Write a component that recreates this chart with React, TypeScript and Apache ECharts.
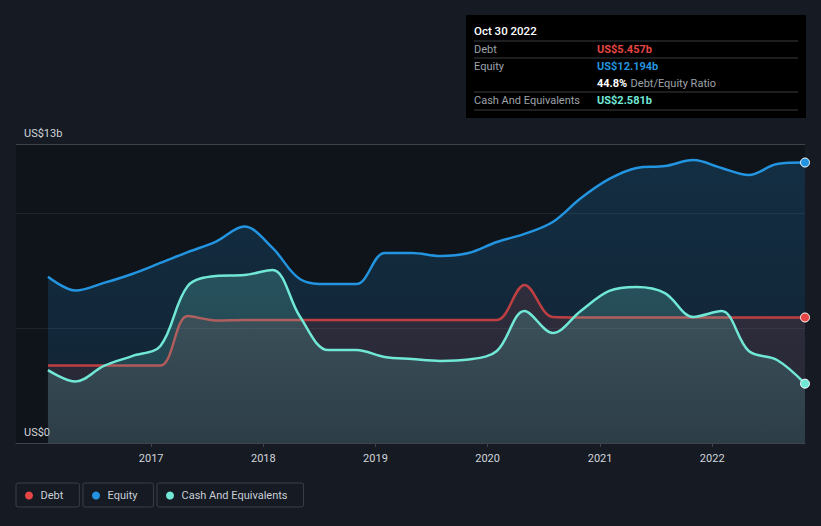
import React, { useEffect, useRef } from "react";
import * as echarts from "echarts";

const quarterDates = [
  "2016-01-31", "2016-04-30", "2016-07-31", "2016-10-31",
  "2017-01-31", "2017-04-30", "2017-07-31", "2017-10-31",
  "2018-01-31", "2018-04-30", "2018-07-31", "2018-10-31",
  "2019-01-31", "2019-04-30", "2019-07-31", "2019-10-31",
  "2020-01-31", "2020-04-30", "2020-07-31", "2020-10-31",
  "2021-01-31", "2021-04-30", "2021-07-31", "2021-10-31",
  "2022-01-31", "2022-04-30", "2022-07-31", "2022-10-30",
];

const equity = [7.23, 6.63, 6.96, 7.35, 7.83, 8.3, 8.76, 9.41, 8.48, 7.13, 6.91, 6.91, 8.26, 8.26, 8.13, 8.26, 8.74, 9.09, 9.61, 10.65, 11.48, 11.96, 12.04, 12.3, 11.96, 11.65, 12.13, 12.194];
const debt = [3.37, 3.37, 3.37, 3.37, 3.37, 5.52, 5.33, 5.35, 5.35, 5.35, 5.35, 5.35, 5.35, 5.35, 5.35, 5.35, 5.35, 6.87, 5.48, 5.46, 5.46, 5.46, 5.46, 5.46, 5.46, 5.46, 5.46, 5.457];
const cash = [3.17, 2.67, 3.35, 3.78, 4.22, 6.83, 7.26, 7.3, 7.52, 5.5, 4.04, 4.04, 3.74, 3.65, 3.57, 3.63, 4.0, 5.74, 4.78, 5.75, 6.61, 6.78, 6.52, 5.48, 5.74, 4.0, 3.61, 2.581];

const yearTicks = ["2017-01-01", "2018-01-01", "2019-01-01", "2020-01-01", "2021-01-01", "2022-01-01"];
const axisStart = "2015-10-19";
const yLabelValues = [0, 13];
const yMax = 13;
const tooltipTitle = "Oct 30 2022";

const COLORS = {
  debt: "#e64545",
  equity: "#2394df",
  cash: "#71e7d6",
};

const FONT = "Roboto, 'Noto Sans', sans-serif";

export default function App() {
  const ref = useRef<HTMLDivElement>(null);

  useEffect(() => {
    if (!ref.current) return;
    const chart = echarts.init(ref.current, undefined, { renderer: "svg" });
    const ts = quarterDates.map((d) => Date.parse(d));
    const last = ts.length - 1;
    const mk = (arr: number[]) => arr.map((v, i) => [ts[i], v]);

    const symSize = (_v: any, p: any) => (p.dataIndex === last ? 9 : 0);

    const grad = (color: string, a1: number, a2: number) =>
      new echarts.graphic.LinearGradient(0, 0, 0, 1, [
        { offset: 0, color: hexA(color, a1) },
        { offset: 1, color: hexA(color, a2) },
      ]);

    const lastDebt = debt[last];
    const lastEquity = equity[last];
    const lastCash = cash[last];
    const ratio = ((lastDebt / lastEquity) * 100).toFixed(1);

    const legendCommon = {
      top: 483,
      icon: "circle",
      itemWidth: 13,
      itemHeight: 8,
      padding: [7, 16, 6, 9],
      borderColor: "#3a3f48",
      borderWidth: 1,
      borderRadius: 2,
      selectedMode: false,
      textStyle: { color: "#c9ced4", fontSize: 11, fontFamily: FONT },
      itemStyle: { borderWidth: 0 },
    };

    const tx = 474;
    const vx = 597;
    const labelStyle = { fill: "#9ea3a9", fontSize: 11, fontFamily: FONT, verticalAlign: "middle" };
    const valueStyle = (c: string) => ({ fill: c, fontSize: 11, fontFamily: FONT, fontWeight: "bold", verticalAlign: "middle" });
    const sep = (y: number) => ({
      type: "line",
      z: 101,
      shape: { x1: tx, y1: y, x2: 798, y2: y },
      style: { stroke: "#3a3c40", lineWidth: 1 },
      silent: true,
    });
    const txt = (x: number, y: number, style: any) => ({ type: "text", z: 101, x, y, silent: true, style });
    const yearValues = yearTicks.map((d) => Date.parse(d));

    chart.setOption({
      animation: false,
      backgroundColor: "#151a23",
      grid: {
        left: 16,
        right: 16,
        top: 144,
        bottom: 83,
        show: true,
        backgroundColor: "#0f131a",
        borderWidth: 0,
      },
      xAxis: {
        type: "value",
        min: Date.parse(axisStart),
        max: ts[last],
        axisLine: { show: true, lineStyle: { color: "#3e434c", width: 1 } },
        axisTick: {
          show: true,
          length: 4,
          lineStyle: { color: "#3e434c" },
          customValues: yearValues,
        },
        axisLabel: {
          color: "#d2d6db",
          fontSize: 11,
          fontFamily: FONT,
          margin: 10,
          customValues: yearValues,
          formatter: (v: number) => String(new Date(v).getUTCFullYear()),
        },
        splitLine: { show: false },
      },
      yAxis: {
        type: "value",
        min: 0,
        max: yMax,
        interval: 5,
        axisLine: { show: false },
        axisTick: { show: false },
        axisLabel: {
          inside: true,
          margin: 8,
          color: "#d2d6db",
          fontSize: 11,
          fontFamily: FONT,
          verticalAlign: "bottom",
          padding: [0, 0, 5, 0],
          customValues: yLabelValues,
          formatter: (v: number) => (v === 0 ? "US$0" : `US$${v}b`),
        },
        splitLine: { show: true, lineStyle: { color: "rgba(255,255,255,0.07)", width: 1 } },
      },
      legend: [
        { ...legendCommon, left: 16, data: ["Debt"] },
        { ...legendCommon, left: 83, data: ["Equity"] },
        { ...legendCommon, left: 157, data: ["Cash And Equivalents"] },
      ],
      series: [
        {
          name: "Equity",
          type: "line",
          data: mk(equity),
          smooth: 0.35,
          symbol: "circle",
          showSymbol: true,
          symbolSize: symSize,
          color: COLORS.equity,
          itemStyle: { color: COLORS.equity, borderColor: "#ffffff", borderWidth: 1 },
          lineStyle: { color: COLORS.equity, width: 2.5 },
          areaStyle: { color: grad(COLORS.equity, 0.29, 0.18) },
          markLine: {
            silent: true,
            symbol: "none",
            label: { show: false },
            lineStyle: { color: "#3d424b", width: 1, type: "solid" },
            data: [{ yAxis: yMax }],
          },
          z: 2,
        },
        {
          name: "Debt",
          type: "line",
          data: mk(debt),
          smooth: 0.35,
          symbol: "circle",
          showSymbol: true,
          symbolSize: symSize,
          color: COLORS.debt,
          itemStyle: { color: COLORS.debt, borderColor: "#ffffff", borderWidth: 1 },
          lineStyle: { color: COLORS.debt, width: 2.5, opacity: 0.8 },
          areaStyle: { color: grad(COLORS.debt, 0.2, 0.12) },
          z: 3,
        },
        {
          name: "Cash And Equivalents",
          type: "line",
          data: mk(cash),
          smooth: 0.35,
          symbol: "circle",
          showSymbol: true,
          symbolSize: symSize,
          color: COLORS.cash,
          itemStyle: { color: COLORS.cash, borderColor: "#ffffff", borderWidth: 1 },
          lineStyle: { color: COLORS.cash, width: 2.5 },
          areaStyle: { color: grad(COLORS.cash, 0.31, 0.17) },
          z: 4,
        },
      ],
      graphic: [
        {
          type: "rect",
          z: 100,
          shape: { x: 466, y: 15, width: 340, height: 103 },
          style: { fill: "#000000" },
          silent: true,
        },
        txt(tx, 31, { text: tooltipTitle, fill: "#ffffff", fontSize: 11.5, fontFamily: FONT, fontWeight: 500, verticalAlign: "middle" }),
        sep(41),
        txt(tx, 49, { ...labelStyle, text: "Debt" }),
        txt(vx, 49, { ...valueStyle(COLORS.debt), text: `US$${lastDebt.toFixed(3)}b` }),
        sep(58),
        txt(tx, 66, { ...labelStyle, text: "Equity" }),
        txt(vx, 66, { ...valueStyle(COLORS.equity), text: `US$${lastEquity.toFixed(3)}b` }),
        txt(vx, 83, {
          text: `{b|${ratio}%} {g|Debt/Equity Ratio}`,
          verticalAlign: "middle",
          rich: {
            b: { fill: "#ffffff", fontSize: 11, fontFamily: FONT, fontWeight: "bold" },
            g: { fill: "#9ea3a9", fontSize: 11, fontFamily: FONT },
          },
        }),
        sep(92),
        txt(tx, 100, { ...labelStyle, text: "Cash And Equivalents" }),
        txt(vx, 100, { ...valueStyle(COLORS.cash), text: `US$${lastCash.toFixed(3)}b` }),
        sep(110),
      ],
    });

    return () => chart.dispose();
  }, []);

  return (
    <div
      ref={ref}
      style={{ position: "fixed", left: 0, top: 0, width: 821, height: 526 }}
    />
  );
}

function hexA(hex: string, a: number) {
  const h = hex.replace("#", "");
  const r = parseInt(h.slice(0, 2), 16);
  const g = parseInt(h.slice(2, 4), 16);
  const b = parseInt(h.slice(4, 6), 16);
  return `rgba(${r},${g},${b},${a})`;
}
